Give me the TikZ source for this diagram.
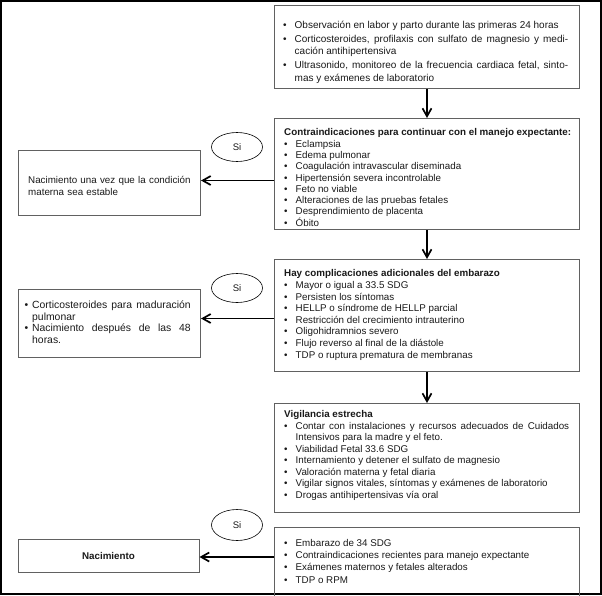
\documentclass[tikz,border=0pt]{standalone}
\usepackage{fontspec}
\setmainfont{Liberation Sans}
\usetikzlibrary{arrows.meta,shapes.geometric}
\definecolor{boxgray}{gray}{0.38}
\definecolor{txtcol}{gray}{0.1}
\hyphenpenalty=10000
\tolerance=9999
\newcommand{\bul}[2][11.5pt]{\noindent\hangindent=#1\hangafter=1\makebox[#1][l]{\textbullet}#2\par}
\newcommand{\ttl}[1]{\noindent\textbf{#1}\par}
\newcommand{\fa}{\fontsize{9.8}{11.3}\selectfont}
\begin{document}
\begin{tikzpicture}[x=1pt,y=-1pt,
  box/.style={draw=boxgray,line width=1pt,anchor=north west,inner sep=0pt},
  txt/.style={anchor=north west,inner sep=0pt,align=justify,text=txtcol},
  si/.style={ellipse,draw=black,line width=0.6pt,minimum width=51pt,minimum height=29pt,inner sep=0pt,text=txtcol,font=\fontsize{9.5}{11}\selectfont},
  arr/.style={line width=1.7pt,-{Straight Barb[length=8pt,width=9pt]}}]
\useasboundingbox (0,0) rectangle (602,595);
% outer frame
\draw[line width=2pt] (1,1) rectangle (601,594);

% right column boxes
\node[box,minimum width=305pt,minimum height=83pt] (b1) at (274,5) {};
\node[box,minimum width=305pt,minimum height=111pt] (b2) at (274,118) {};
\node[box,minimum width=305pt,minimum height=112pt] (b3) at (274,259) {};
\node[box,minimum width=305pt,minimum height=109pt] (b4) at (274,403) {};
\node[box,minimum width=305pt,minimum height=70pt] (b5) at (274,527) {};

% left column boxes
\node[box,minimum width=182pt,minimum height=65pt] (l1) at (18,150) {};
\node[box,minimum width=182pt,minimum height=68pt] (l2) at (18,289) {};
\node[box,minimum width=181pt,minimum height=33pt,anchor=center,font=\fa\bfseries,text=txtcol] (l3) at (108.5,555.5) {Nacimiento};

% Si ellipses
\node[si] (e1) at (237,147) {Si};
\node[si] (e2) at (237,288) {Si};
\node[si,minimum height=31pt] (e3) at (237,525) {Si};

% texts
\node[txt,text width=285pt,font=\fontsize{10}{12.7}\selectfont\setlength{\parskip}{1.3pt}] (t1) at (283,20.5) {%
\bul{Observación en labor y parto durante las primeras 24 horas}%
\bul{Corticosteroides, profilaxis con sulfato de magnesio y medi-\linebreak cación antihipertensiva}%
\bul{Ultrasonido, monitoreo de la frecuencia cardiaca fetal, sinto-\linebreak mas y exámenes de laboratorio}};

\node[txt,text width=292pt,font=\fa] (t2) at (284,128.5) {%
\ttl{Contraindicaciones para continuar con el manejo expectante:}%
\bul{Eclampsia}%
\bul{Edema pulmonar}%
\bul{Coagulación intravascular diseminada}%
\bul{Hipertensión severa incontrolable}%
\bul{Feto no viable}%
\bul{Alteraciones de las pruebas fetales}%
\bul{Desprendimiento de placenta}%
\bul{Óbito}};

\node[txt,text width=292pt,font=\fontsize{9.8}{11.6}\selectfont] (t3) at (284,269.5) {%
\ttl{Hay complicaciones adicionales del embarazo}%
\bul{Mayor o igual a 33.5 SDG}%
\bul{Persisten los síntomas}%
\bul{HELLP o síndrome de HELLP parcial}%
\bul{Restricción del crecimiento intrauterino}%
\bul{Oligohidramnios severo}%
\bul{Flujo reverso al final de la diástole}%
\bul{TDP o ruptura prematura de membranas}};

\node[txt,text width=285pt,font=\fontsize{9.8}{11.5}\selectfont] (t4) at (284,410.5) {%
\ttl{Vigilancia estrecha}%
\bul{Contar con instalaciones y recursos adecuados de Cuidados\linebreak Intensivos para la madre y el feto.}%
\bul{Viabilidad Fetal 33.6 SDG}%
\bul{Internamiento y detener el sulfato de magnesio}%
\bul{Valoración materna y fetal diaria}%
\bul{Vigilar signos vitales, síntomas y exámenes de laboratorio}%
\bul{Drogas antihipertensivas vía oral}};

\node[txt,text width=292pt,font=\fontsize{9.8}{12.3}\selectfont] (t5) at (284,539) {%
\bul{Embarazo de 34 SDG}%
\bul{Contraindicaciones recientes para manejo expectante}%
\bul{Exámenes maternos y fetales alterados}%
\bul{TDP o RPM}};

\node[txt,align=left,text width=170pt,font=\fontsize{9.8}{11.5}\selectfont] (u1) at (28,176.5) {%
Nacimiento una vez que la condición\\materna sea estable};

\node[txt,text width=166pt,font=\fontsize{10.4}{11.5}\selectfont] (u2) at (24.5,301) {%
\bul[7.5pt]{Corticosteroides para maduración\linebreak pulmonar}%
\bul[7.5pt]{Nacimiento después de las 48\linebreak horas.}};

% connectors
\draw[arr] (b1.south) -- (b2.north);
\draw[arr] (b2.south) -- (b3.north);
\draw[arr] (b3.south) -- (b4.north);
\draw[arr] ([yshift=2.5pt]b2.west |- l1.east) -- ([yshift=2.5pt]l1.east);
\draw[arr] ([yshift=5pt]b3.west |- l2.east) -- ([yshift=5pt]l2.east);
\draw[arr] ([yshift=-1.5pt]b5.west |- l3.east) -- ([yshift=-1.5pt]l3.east);
\end{tikzpicture}
\end{document}
